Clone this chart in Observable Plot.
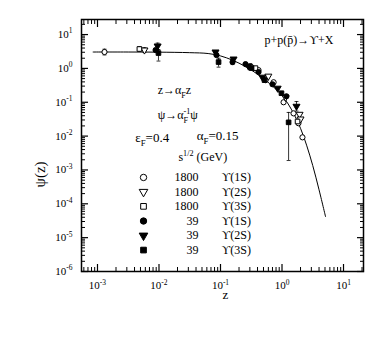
<!DOCTYPE html>
<html><head><meta charset="utf-8">
<script src="https://cdn.jsdelivr.net/npm/d3@7"></script>
<script src="https://cdn.jsdelivr.net/npm/@observablehq/plot@0.6"></script>
<style>body{margin:0;background:#fff} svg{display:block} svg text{font-family:"Liberation Serif","Times New Roman",serif}</style>
</head><body><div id="chart"></div>
<script>
// ---- axis ticks ----
const xTickValues = [1e-3, 1e-2, 1e-1, 1, 10];
const xTickLabels = ["10^{-3}", "10^{-2}", "10^{-1}", "10^{0}", "10^{1}"];
const yTickValues = [1e-6, 1e-5, 1e-4, 1e-3, 1e-2, 1e-1, 1, 10];
const yTickLabels = ["10^{-6}", "10^{-5}", "10^{-4}", "10^{-3}", "10^{-2}", "10^{-1}", "10^{0}", "10^{1}"];
const xDomain = [10 ** -3.26, 10 ** 1.325];
const yDomain = [1e-6, 10 ** 1.445];

// ---- fitted curve ----
const curveZ   = [0.00085, 0.00316, 0.01, 0.0316, 0.063, 0.1, 0.158, 0.251, 0.398, 0.631, 1.0, 1.26, 1.58, 2.0, 2.51, 3.16, 3.98, 5.1];
const curvePsi = [3.05, 3.05, 3.02, 2.92, 2.75, 2.34, 1.74, 1.15, 0.68, 0.355, 0.158, 0.089, 0.043, 0.017, 0.0054, 0.00135, 0.00027, 0.000042];

// ---- data series: sqrt(s)=1800 GeV ----
const u1800_1S_z   = [0.0013, 0.308, 0.415, 0.54, 0.73, 1.06, 1.54, 1.85, 2.15];
const u1800_1S_psi = [3.05, 1.17, 0.89, 0.45, 0.39, 0.10, 0.047, 0.024, 0.0092];
const u1800_1S_lo  = [2.5, null, null, null, null, null, null, null, null];
const u1800_1S_hi  = [3.7, null, null, null, null, null, null, null, null];

const u1800_2S_z   = [0.0058, 0.60, 1.14, 1.93, 2.0];
const u1800_2S_psi = [3.49, 0.59, 0.14, 0.044, 0.032];
const u1800_2S_lo  = [3.0, null, null, null, null];
const u1800_2S_hi  = [4.1, null, null, null, null];

const u1800_3S_z   = [0.0048, 0.37, 1.79];
const u1800_3S_psi = [3.74, 1.02, 0.027];
const u1800_3S_lo  = [3.2, null, null];
const u1800_3S_hi  = [4.4, null, null];

// ---- data series: sqrt(s)=39 GeV ----
const u39_1S_z   = [0.0088, 0.086, 0.157, 0.255, 0.415, 0.70, 1.18];
const u39_1S_psi = [3.49, 2.48, 1.54, 1.34, 0.78, 0.34, 0.15];
const u39_1S_lo  = [null, null, 1.3, null, null, null, null];
const u39_1S_hi  = [null, null, 1.8, null, null, null, null];

const u39_2S_z   = [0.0095, 0.083, 0.163, 0.285, 0.48, 0.85, 1.72];
const u39_2S_psi = [4.59, 3.05, 1.89, 1.17, 0.55, 0.26, 0.076];
const u39_2S_lo  = [3.6, null, null, null, null, null, 0.055];
const u39_2S_hi  = [5.6, null, null, null, null, null, 0.105];

const u39_3S_z   = [0.0098, 0.093, 0.32, 0.52, 0.98, 1.28];
const u39_3S_psi = [2.84, 1.54, 1.02, 0.45, 0.185, 0.0255];
const u39_3S_lo  = [1.65, 1.09, null, null, null, 0.0019];
const u39_3S_hi  = [3.6, 2.0, null, null, null, 0.050];

// ---- legend ----
const legendEnergy = ["1800", "1800", "1800", "39", "39", "39"];
const legendState  = ["ϒ(1S)", "ϒ(2S)", "ϒ(3S)", "ϒ(1S)", "ϒ(2S)", "ϒ(3S)"];
const legendPsi    = [6.0e-4, 2.25e-4, 8.4e-5, 3.1e-5, 1.15e-5, 4.3e-6];

// ---- annotations ----
const noteText = ["p+p(p\u0304)\u2192ϒ+X", "z\u2192α_{F}z", "ψ\u2192α_{F}^{-1}ψ", "ε_{F}=0.4", "α_{F}=0.15", "s^{1/2} (GeV)"];
const noteZ    = [0.52, 0.0095, 0.0095, 0.0041, 0.041, 0.0207];
const notePsi  = [6.9, 0.23, 0.041, 0.0092, 0.0105, 0.00234];
const noteSize = [12, 12, 12, 13, 13, 12];

// styles (not data)
const styles = {
  "1800-1S": {symbol: "circle", fill: "white", rotate: 0},
  "1800-2S": {symbol: "triangle", fill: "white", rotate: 180},
  "1800-3S": {symbol: "square", fill: "white", rotate: 0},
  "39-1S": {symbol: "circle", fill: "black", rotate: 0},
  "39-2S": {symbol: "triangle", fill: "black", rotate: 180},
  "39-3S": {symbol: "square", fill: "black", rotate: 0}
};
const seriesKeys = ["1800-1S", "1800-2S", "1800-3S", "39-1S", "39-2S", "39-3S"];
const seriesArrays = [
  [u1800_1S_z, u1800_1S_psi, u1800_1S_lo, u1800_1S_hi],
  [u1800_2S_z, u1800_2S_psi, u1800_2S_lo, u1800_2S_hi],
  [u1800_3S_z, u1800_3S_psi, u1800_3S_lo, u1800_3S_hi],
  [u39_1S_z, u39_1S_psi, u39_1S_lo, u39_1S_hi],
  [u39_2S_z, u39_2S_psi, u39_2S_lo, u39_2S_hi],
  [u39_3S_z, u39_3S_psi, u39_3S_lo, u39_3S_hi]
];
const points = [];
seriesArrays.forEach(([zs, ps, lo, hi], i) => zs.forEach((z, j) =>
  points.push({key: seriesKeys[i], z, psi: ps[j], lo: lo[j], hi: hi[j]})));
const errs = points.filter(d => d.lo != null);
const curve = curveZ.map((z, i) => ({z, psi: curvePsi[i]}));
const legend = seriesKeys.map((k, i) => ({key: k, e: legendEnergy[i], s: legendState[i], psi: legendPsi[i]}));
const notes = noteText.map((t, i) => ({t, z: noteZ[i], psi: notePsi[i], size: noteSize[i]}));

const minor = (lo, hi, dom) => { const a = []; for (let e = lo; e <= hi; e++) for (let m = 2; m <= 9; m++) a.push(m * 10 ** e); return a.filter(v => v >= dom[0] && v <= dom[1]); };
const xMinor = minor(-4, 1, xDomain), yMinor = minor(-6, 1, yDomain);

const capSymbol = {draw(ctx, size) { const w = Math.sqrt(size) / 2; ctx.moveTo(-w, 0); ctx.lineTo(w, 0); }};
const legendZ = 0.0056;
const xLabel = d => xTickLabels[xTickValues.indexOf(d)];
const yLabel = d => yTickLabels[yTickValues.indexOf(d)];

// inward ticks: draw outward ticks then shift them inside the frame
const inX = (a, ticks, size, sw) => Plot.axisX({anchor: a, ticks, tickSize: size, dy: a === "bottom" ? -size : size, tickFormat: () => "", label: null, strokeWidth: sw});
const inY = (a, ticks, size, sw) => Plot.axisY({anchor: a, ticks, tickSize: size, dx: a === "left" ? size : -size, tickFormat: () => "", label: null, strokeWidth: sw});

const plot = Plot.plot({
  width: 382, height: 354,
  marginLeft: 81, marginRight: 19, marginTop: 19, marginBottom: 83,
  style: {fontFamily: "'Liberation Serif', 'Times New Roman', serif", fontSize: "11px", background: "white", color: "black"},
  x: {type: "log", domain: xDomain},
  y: {type: "log", domain: yDomain},
  marks: [
    ...["bottom", "top"].flatMap(a => [inX(a, xTickValues, 7, 1.2), inX(a, xMinor, 4, 1)]),
    ...["left", "right"].flatMap(a => [inY(a, yTickValues, 7, 1.2), inY(a, yMinor, 4, 1)]),
    Plot.axisX({anchor: "bottom", ticks: xTickValues, tickSize: 0, tickPadding: 10, tickFormat: xLabel, label: null, fontSize: 11}),
    Plot.axisY({anchor: "left", ticks: yTickValues, tickSize: 0, tickPadding: 9, tickFormat: yLabel, label: null, fontSize: 11}),
    Plot.frame({stroke: "black", strokeWidth: 1.5}),
    Plot.line(curve, {x: "z", y: "psi", curve: "catmull-rom", stroke: "black", strokeWidth: 1}),
    Plot.ruleX(errs, {x: "z", y1: "lo", y2: "hi", stroke: "black", strokeWidth: 0.8}),
    Plot.dot(errs, {x: "z", y: "lo", symbol: capSymbol, r: 2.2, stroke: "black", strokeWidth: 0.8}),
    Plot.dot(errs, {x: "z", y: "hi", symbol: capSymbol, r: 2.2, stroke: "black", strokeWidth: 0.8}),
    ...seriesKeys.map(k => Plot.dot(points.filter(d => d.key === k), {
      x: "z", y: "psi", symbol: styles[k].symbol, fill: styles[k].fill,
      stroke: "black", strokeWidth: 1, r: 2.6, rotate: styles[k].rotate
    })),
    ...seriesKeys.map(k => Plot.dot(legend.filter(d => d.key === k), {
      x: () => legendZ, y: "psi", symbol: styles[k].symbol, fill: styles[k].fill,
      stroke: "black", strokeWidth: 1, r: 3.2, rotate: styles[k].rotate
    })),
    Plot.text(legend, {x: () => 0.0438, y: "psi", text: "e", textAnchor: "end", fontSize: 12}),
    Plot.text(legend, {x: () => 0.104, y: "psi", text: "s", textAnchor: "start", fontSize: 12, fontFamily: "'Liberation Sans', Arial, sans-serif"}),
    Plot.text(notes, {x: "z", y: "psi", text: "t", textAnchor: "start", fontSize: d => d.size}),
    Plot.text(["z"], {x: () => 0.12, frameAnchor: "bottom", dy: 27, text: d => d, fontSize: 13}),
    Plot.text(["ψ(z)"], {frameAnchor: "left", dx: -41, dy: 42, rotate: -90, text: d => d, fontSize: 15})
  ]
});
document.getElementById("chart").appendChild(plot);

// rich text: ^{..} superscript, _{..} subscript
const NS = "http://www.w3.org/2000/svg";
plot.querySelectorAll("text").forEach(el => {
  const s = el.textContent;
  if (!/[\^_]\{/.test(s)) return;
  const fs = parseFloat(getComputedStyle(el).fontSize) || 11;
  el.textContent = "";
  const re = /([\^_])\{([^}]*)\}|([^\^_]+)/g;
  let m, shift = 0, prevSub = null;
  while ((m = re.exec(s))) {
    const t = document.createElementNS(NS, "tspan");
    if (m[3] !== undefined) {
      t.textContent = m[3];
      if (shift) t.setAttribute("dy", -shift);
      shift = 0; prevSub = null;
      el.appendChild(t);
    } else {
      const target = m[1] === "^" ? -0.42 * fs : 0.32 * fs;
      t.setAttribute("dy", target - shift);
      shift = target;
      t.setAttribute("font-size", (0.68 * fs).toFixed(1));
      t.textContent = m[2];
      el.appendChild(t);
      if (m[1] === "^" && prevSub) t.setAttribute("dx", -prevSub.getComputedTextLength());
      prevSub = m[1] === "_" ? t : null;
    }
  }
});
</script>
</body></html>
